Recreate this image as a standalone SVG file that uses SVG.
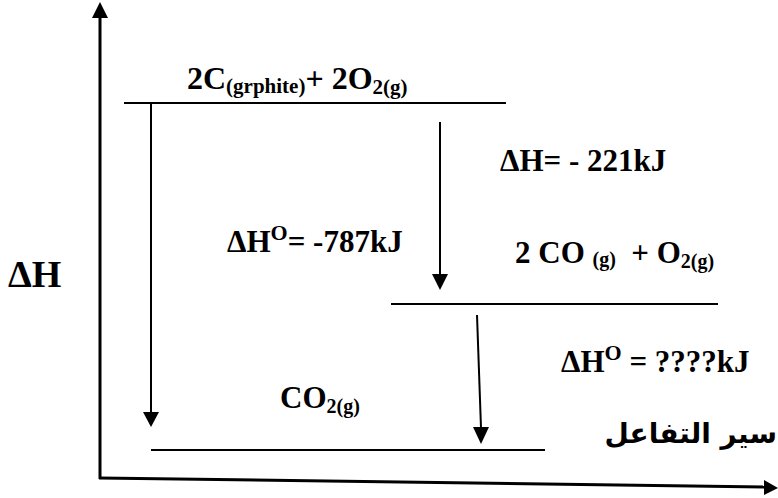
<svg xmlns="http://www.w3.org/2000/svg" width="778" height="498" viewBox="0 0 778 498">
<defs>
<style>
.t{font-family:"Liberation Serif","Times New Roman",Tinos,"DejaVu Serif",serif;font-weight:bold;fill:#000}
.ln{stroke:#000;stroke-width:2;fill:none}
.ax{stroke:#000;stroke-width:3;fill:none}
.ar{font-family:"DejaVu Sans","Noto Sans",sans-serif;font-weight:bold;fill:#000}
</style>
</defs>
<rect width="778" height="498" fill="#fff"/>
<g id="axes">
<line class="ax" x1="100" y1="479" x2="100" y2="18"/>
<path d="M100,2 L92,18 L108,18 Z" fill="#000"/>
<line class="ax" x1="99" y1="478" x2="764" y2="487"/>
<path d="M778,488 L764,480 L764,495 Z" fill="#000"/>
</g>
<g id="level-reactants">
<line class="ln" x1="124" y1="103" x2="506" y2="103"/>
<text class="t" x="187" y="89" font-size="32">2C<tspan font-size="21" dy="4">(grphite)</tspan><tspan dy="-4">+ 2O</tspan><tspan font-size="21" dy="5">2(g)</tspan></text>
</g>
<g id="level-intermediate">
<line class="ln" x1="391" y1="304" x2="718" y2="304"/>
<text class="t" x="515" y="263" font-size="31">2 CO <tspan font-size="20" dy="3">(g)</tspan><tspan dy="-3" xml:space="preserve">  + O</tspan><tspan font-size="20" dy="5">2(g)</tspan></text>
</g>
<g id="level-product">
<line class="ln" x1="151" y1="450" x2="545" y2="450"/>
<text class="t" x="280" y="408" font-size="31">CO<tspan font-size="20" dy="5">2(g)</tspan></text>
</g>
<g id="connectors">
<line class="ln" x1="151" y1="103" x2="151" y2="413"/>
<path d="M151,427 L143,412 L159,412 Z" fill="#000"/>
<line class="ln" x1="440" y1="122" x2="440" y2="275"/>
<path d="M440,290 L432,274 L448,274 Z" fill="#000"/>
<line class="ln" x1="477" y1="315" x2="481" y2="428"/>
<path d="M481,444 L473,427 L489,427 Z" fill="#000"/>
</g>
<g id="labels">
<text class="t" x="500" y="171" font-size="31">ΔH= - 221kJ</text>
<text class="t" x="227" y="252" font-size="31">ΔH<tspan font-size="22" dy="-12">O</tspan><tspan dy="12">= -787kJ</tspan></text>
<text class="t" x="561" y="372" font-size="31">ΔH<tspan font-size="22" dy="-12">O</tspan><tspan dy="12"> = ????kJ</tspan></text>
<text class="t" x="8" y="287" font-size="38">ΔH</text>
<text class="ar" x="777" y="443" font-size="28" text-anchor="end">سير التفاعل</text>
</g>
</svg>
